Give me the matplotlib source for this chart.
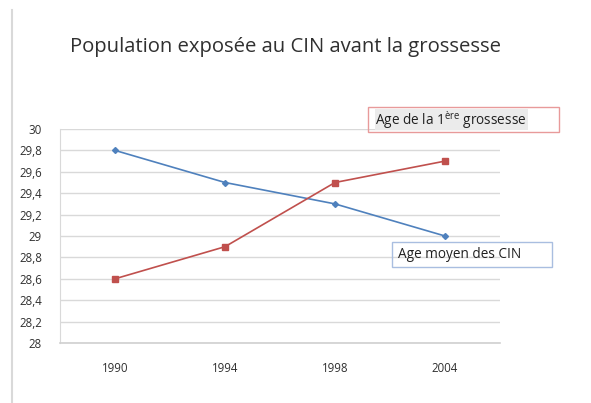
import matplotlib.pyplot as plt
from matplotlib.lines import Line2D

plt.rcParams["font.family"] = ["Open Sans", "DejaVu Sans"]

years = ["1990", "1994", "1998", "2004"]
age_cin = [29.8, 29.5, 29.3, 29.0]
age_grossesse = [28.6, 28.9, 29.5, 29.7]
y_ticks = [28, 28.2, 28.4, 28.6, 28.8, 29, 29.2, 29.4, 29.6, 29.8, 30]
y_labels = ["28", "28,2", "28,4", "28,6", "28,8", "29", "29,2", "29,4",
            "29,6", "29,8", "30"]

blue = "#4F81BD"
red = "#C0504D"

fig = plt.figure(figsize=(5.91, 4.03), dpi=100)
W, H = 591, 403
ax = fig.add_axes([60 / W, 1 - 343 / H, 440 / W, (343 - 129) / H])

x = list(range(len(years)))
ax.plot(x, age_cin, color=blue, lw=1.2, marker="D", ms=3, zorder=3)
ax.plot(x, age_grossesse, color=red, lw=1.2, marker="s", ms=4, zorder=3)

ax.set_xlim(-0.5, len(years) - 0.5)
ax.set_ylim(28, 30)
ax.set_yticks(y_ticks)
ax.set_yticklabels(y_labels, fontsize=8.3, color="#303030")
ax.set_xticks(x)
ax.set_xticklabels(years, fontsize=8.3, color="#303030")
ax.tick_params(axis="both", length=0)
ax.tick_params(axis="x", pad=14)
ax.tick_params(axis="y", pad=13)
ax.grid(axis="y", color="#D9D9D9", lw=1)
ax.set_axisbelow(True)
for side in ["top", "right"]:
    ax.spines[side].set_visible(False)
ax.spines["left"].set_color("#D9D9D9")
ax.spines["bottom"].set_color("#D0D0D0")
ax.spines["bottom"].set_linewidth(1.2)

fig.text(285 / W, 1 - 47 / H, "Population exposée au CIN avant la grossesse",
         ha="center", va="center", fontsize=14.6, color="#303030")

# slide border on the left
fig.add_artist(Line2D([12 / W, 12 / W], [0, 1 - 10 / H], color="#D9D9D9",
                      lw=1.5, transform=fig.transFigure))

# label boxes
fig.patches.append(plt.Rectangle((368 / W, 1 - 132 / H), 191 / W, 25 / H,
                                 transform=fig.transFigure, fill=False,
                                 edgecolor="#E89A9A", lw=1))
fig.patches.append(plt.Rectangle((375 / W, 1 - 130 / H), 153 / W, 21 / H,
                                 transform=fig.transFigure,
                                 facecolor="#EBEBEB", edgecolor="none"))
fig.text(375 / W, 1 - 120 / H, r"Age de la 1$^{\mathregular{ère}}$ grossesse",
         ha="left", va="center", fontsize=9.8, color="#202020")

fig.patches.append(plt.Rectangle((392 / W, 1 - 267 / H), 160 / W, 25 / H,
                                 transform=fig.transFigure, fill=False,
                                 edgecolor="#A9BEE0", lw=1))
fig.text(398 / W, 1 - 255 / H, "Age moyen des CIN",
         ha="left", va="center", fontsize=9.8, color="#202020")

fig.savefig("out.png", dpi=100)
